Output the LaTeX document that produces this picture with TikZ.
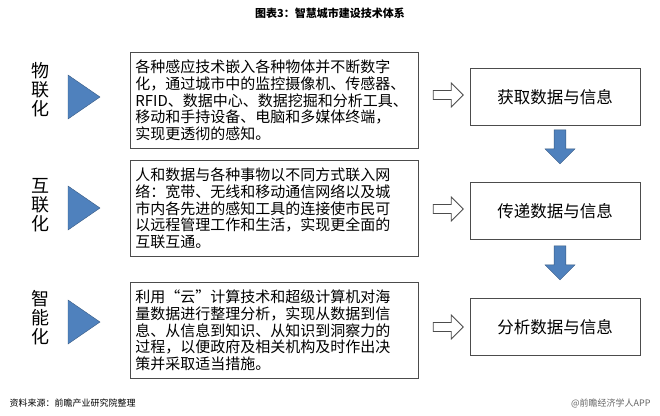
\documentclass[tikz,border=0pt]{standalone}
\usepackage{fontspec}
\setmainfont{Noto Sans CJK SC}
\XeTeXlinebreaklocale "zh"
\XeTeXlinebreakskip=0pt plus 1pt
\usetikzlibrary{shapes.arrows}
\definecolor{arrblue}{RGB}{79,129,189}
\tikzset{
  descbox/.style={draw=black!70,thick,minimum width=288pt,minimum height=96pt,text width=278pt,align=left,font=\fontsize{15}{16.8}\selectfont,anchor=north west,inner sep=5pt},
  resbox/.style={draw=black!70,thick,minimum width=170pt,minimum height=57pt,font=\fontsize{16.5}{19}\selectfont},
  tri/.style={fill=arrblue,draw=arrblue!70!black},
  hollow/.style={single arrow,draw=black!70,thick,minimum height=30pt,minimum width=24pt,single arrow head extend=4pt,inner sep=2pt},
  downarr/.style={single arrow,fill=arrblue,draw=arrblue!70!black,shape border rotate=270,minimum height=34pt,minimum width=30pt,single arrow head extend=5pt,inner sep=3pt},
  side/.style={font=\fontsize{18}{19}\selectfont,align=center}
}
\begin{document}
\begin{tikzpicture}[x=1pt,y=-1pt]
\useasboundingbox[fill=white] (0,0) rectangle (660,415);
\node[font=\bfseries\fontsize{11}{13}\selectfont] (title) at (330,13) {图表3：智慧城市建设技术体系};

\node[descbox] (d1) at (130,52) {各种感应技术嵌入各种物体并不断数字\\化，通过城市中的监控摄像机、传感器、\\RFID、数据中心、数据挖掘和分析工具、\\移动和手持设备、电脑和多媒体终端，\\实现更透彻的感知。};
\node[descbox] (d2) at (130,160) {人和数据与各种事物以不同方式联入网\\络：宽带、无线和移动通信网络以及城\\市内各先进的感知工具的连接使市民可\\以远程管理工作和生活，实现更全面的\\互联互通。};
\node[descbox] (d3) at (130,282) {利用“云”计算技术和超级计算机对海\\量数据进行整理分析，实现从数据到信\\息、从信息到知识、从知识到洞察力的\\过程，以便政府及相关机构及时作出决\\策并采取适当措施。};

\node[resbox] (r1) at (555,97) {获取数据与信息};
\node[resbox] (r2) at (555,211) {传递数据与信息};
\node[resbox] (r3) at (555,327) {分析数据与信息};

\node[side] (s1) at (40,90) {物\\联\\化};
\node[side] (s2) at (40,205) {互\\联\\化};
\node[side] (s3) at (40,318) {智\\能\\化};

\foreach \y in {97,208,322}
  \draw[tri] (68,\y-22) -- (100,\y) -- (68,\y+22) -- cycle;

\node[hollow] (h1) at (446,95) {};
\node[hollow] (h2) at (446,209) {};
\node[hollow] (h3) at (446,327) {};

\node[downarr] (a1) at (560,144) {};
\node[downarr] (a2) at (560,260) {};

\node[font=\itshape\fontsize{9}{11}\selectfont,anchor=west] (src) at (6,403) {资料来源：前瞻产业研究院整理};
\node[font=\fontsize{9}{11}\selectfont,anchor=east,text=black!60] (app) at (654,403) {@前瞻经济学人APP};
\end{tikzpicture}
\end{document}
